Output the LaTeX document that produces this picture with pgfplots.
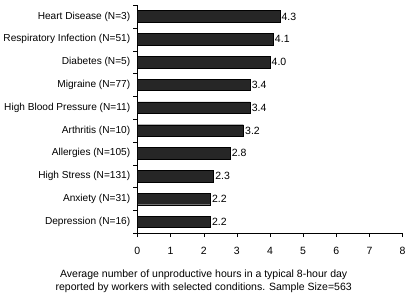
\documentclass[border=0pt]{standalone}
\usepackage{pgfplots}
\pgfplotsset{compat=1.18}
\usepackage{fontspec}
\setmainfont{Liberation Sans}
\definecolor{barfill}{HTML}{262626}
\begin{document}
\begin{tikzpicture}
\fontsize{10.5}{12}\selectfont
\begin{axis}[
  scale only axis,
  width=265pt, height=228pt,
  xmin=0, xmax=8,
  ymin=-0.5, ymax=9.5,
  y dir=reverse,
  axis lines=left,
  axis line style={-, black},
  xtick={0,1,...,8},
  /pgf/number format/assume math mode=true,
  ytick={-0.5,0.5,1.5,2.5,3.5,4.5,5.5,6.5,7.5,8.5,9.5},
  yticklabels={},
  extra y ticks={0,1,...,9},
  extra y tick labels={Heart Disease (N=3),Respiratory Infection (N=51),Diabetes (N=5),Migraine (N=77),High Blood Pressure (N=11),Arthritis (N=10),Allergies (N=105),High Stress (N=131),Anxiety (N=31),Depression (N=16)},
  extra y tick style={major tick length=0pt, yticklabel style={xshift=-3.5pt}},
  yticklabel style={font=\fontsize{10.1}{12}\selectfont},
  xticklabel style={font=\fontsize{10.5}{12}\selectfont, yshift=-6pt},
  tick style={black},
  tick align=outside,
  major tick length=4pt,
  xlabel={Average number of unproductive hours in a typical 8-hour day\\reported by workers with selected conditions. Sample Size=563},
  xlabel style={align=center, font=\fontsize{10.5}{13}\selectfont, at={(axis description cs:0.25,0)}, anchor=north, yshift=-33pt},
  xbar,
  bar width=11.5pt,
  point meta=explicit,
  nodes near coords={\pgfmathprintnumber[fixed,fixed zerofill,precision=1,assume math mode=true]{\pgfplotspointmeta}},
  nodes near coords style={font=\fontsize{10.5}{12}\selectfont, anchor=west, inner sep=1.5pt},
]
\addplot[fill=barfill, draw=black] coordinates {
(4.3,0) [4.3] (4.1,1) [4.1] (4.0,2) [4.0] (3.4,3) [3.4] (3.4,4) [3.4] (3.2,5) [3.2] (2.8,6) [2.8] (2.3,7) [2.3] (2.2,8) [2.2] (2.2,9) [2.2]
};
\end{axis}
\path ([yshift=5pt]current axis.north);
\end{tikzpicture}
\end{document}
